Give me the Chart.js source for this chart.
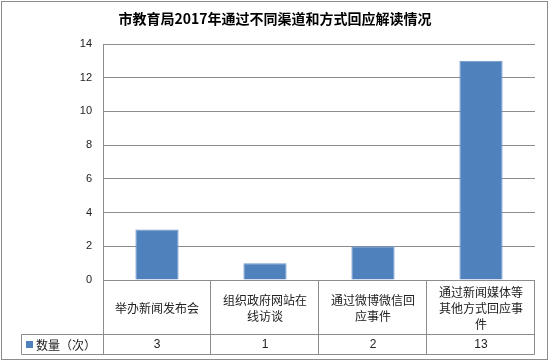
<!DOCTYPE html>
<html>
<head>
<meta charset="utf-8">
<script src="https://cdn.jsdelivr.net/npm/chart.js@4"></script>
<style>
  html, body { margin: 0; padding: 0; background: #fff; }
  canvas { display: block; }
</style>
</head>
<body>
<canvas id="chart" width="550" height="362"></canvas>
<script>
/* ─── Data ─────────────────────────────────────────────────────────────────── */

const chartTitle = '市教育局2017年通过不同渠道和方式回应解读情况';
const categories = ['举办新闻发布会', '组织政府网站在线访谈', '通过微博微信回应事件', '通过新闻媒体等其他方式回应事件'];
// how each category label wraps inside its table cell
const categoryLines = [
  ['举办新闻发布会'],
  ['组织政府网站在', '线访谈'],
  ['通过微博微信回', '应事件'],
  ['通过新闻媒体等', '其他方式回应事', '件'],
];
const seriesName = '数量（次）';
const counts     = [3, 1, 2, 13];
const yMin = 0, yMax = 14, yStep = 2;

/* ─── Styles ───────────────────────────────────────────────────────────────── */

const BAR_COLOR  = '#4f81bd';
const LINE_COLOR = '#8c8c8c';
const TEXT_COLOR = '#222';
const CJK_FONT   = '"Noto Sans CJK SC", "Noto Sans", sans-serif';
const NUM_FONT   = '"Liberation Sans", Arial, sans-serif';

/* ─── Title, data table and frame ──────────────────────────────────────────── */

const tablePlugin = {
  id: 'dataTable',
  afterDraw(chart) {
    const ctx  = chart.ctx;
    const area = chart.chartArea;
    const xs   = chart.scales.x;
    const colW = (xs.right - xs.left) / categories.length;
    const top  = area.bottom;
    const row1 = top + 54;
    const row2 = row1 + 20;
    const legendLeft = 21;

    ctx.save();

    // outer frame
    ctx.strokeStyle = LINE_COLOR;
    ctx.lineWidth = 1;
    ctx.strokeRect(1.5, 1.5, 546, 358);

    // title
    ctx.fillStyle = '#000';
    ctx.font = 'bold 14px ' + CJK_FONT;
    ctx.textAlign = 'center';
    ctx.textBaseline = 'middle';
    ctx.fillText(chartTitle, 275, 19);

    // table grid
    ctx.beginPath();
    const L = Math.round(xs.left) + 0.5;
    const R = Math.round(xs.right) - 0.5;
    ctx.moveTo(L, top); ctx.lineTo(L, row2 + 0.5);
    categories.forEach((c, i) => {
      const x = Math.round(xs.getPixelForValue(i) + colW / 2) - 0.5;
      ctx.moveTo(x, top); ctx.lineTo(x, row2 + 0.5);
    });
    ctx.moveTo(legendLeft + 0.5, row1 + 0.5); ctx.lineTo(R, row1 + 0.5);
    ctx.moveTo(legendLeft + 0.5, row2 + 0.5); ctx.lineTo(R, row2 + 0.5);
    ctx.moveTo(legendLeft + 0.5, row1 + 0.5); ctx.lineTo(legendLeft + 0.5, row2 + 0.5);
    ctx.stroke();

    // category labels
    ctx.fillStyle = TEXT_COLOR;
    ctx.font = '12px ' + CJK_FONT;
    const lh = 16;
    categoryLines.forEach((lines, i) => {
      const cx = xs.getPixelForValue(i);
      const cy = (top + row1) / 2 + 1;
      const y0 = cy - (lines.length - 1) * lh / 2;
      lines.forEach((t, k) => ctx.fillText(t, cx, y0 + k * lh));
    });

    // values row
    ctx.font = '12px ' + NUM_FONT;
    counts.forEach((v, i) => {
      ctx.fillText(String(v), xs.getPixelForValue(i), (row1 + row2) / 2 + 1);
    });

    // legend cell
    ctx.fillStyle = BAR_COLOR;
    ctx.fillRect(26, (row1 + row2) / 2 - 3, 7, 7);
    ctx.fillStyle = TEXT_COLOR;
    ctx.font = '12px ' + CJK_FONT;
    ctx.textAlign = 'left';
    ctx.fillText(seriesName, 36, (row1 + row2) / 2 + 1);

    ctx.restore();
  },
};

/* ─── Chart ────────────────────────────────────────────────────────────────── */

new Chart(document.getElementById('chart').getContext('2d'), {
  type: 'bar',
  data: {
    labels: categories,
    datasets: [{
      label: seriesName,
      data: counts,
      backgroundColor: BAR_COLOR,
      borderColor: '#6f97c9',
      borderWidth: 1,
      categoryPercentage: 1,
      barPercentage: 0.4,
    }],
  },
  options: {
    responsive: false,
    animation: false,
    devicePixelRatio: 1,
    events: [],
    layout: { padding: { top: 44, right: 15, bottom: 82, left: 0 } },
    plugins: {
      legend:  { display: false },
      title:   { display: false },
      tooltip: { enabled: false },
    },
    scales: {
      x: { display: false },
      y: {
        min: yMin,
        max: yMax,
        afterFit: s => { s.width = 103; },
        ticks: {
          stepSize: yStep,
          padding: 11,
          color: TEXT_COLOR,
          font: { family: NUM_FONT, size: 11 },
        },
        grid:   { color: LINE_COLOR, drawTicks: false },
        border: { color: LINE_COLOR },
      },
    },
  },
  plugins: [tablePlugin],
});
</script>
</body>
</html>
